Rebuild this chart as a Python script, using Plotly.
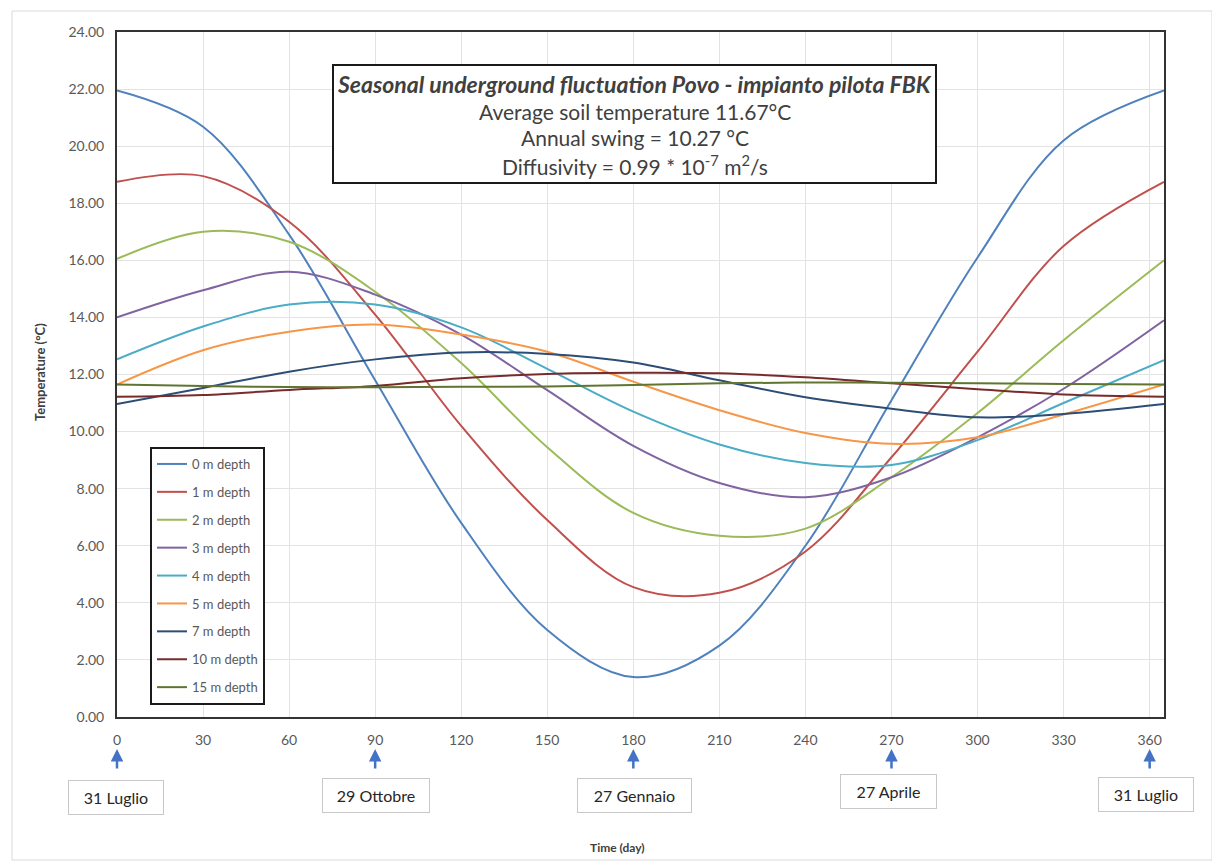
import plotly.graph_objects as go

days = [0, 30, 60, 90, 120, 150, 180, 210, 240, 270, 300, 330, 365]

t_0m = [21.95, 20.68, 16.9, 11.8, 6.8, 3.05, 1.4, 2.5, 6.0, 11.1, 16.1, 20.2, 21.95]
t_1m = [18.75, 18.95, 17.35, 14.1, 10.2, 6.9, 4.55, 4.35, 5.8, 9.1, 12.8, 16.5, 18.75]
t_2m = [16.05, 17.0, 16.65, 14.9, 12.4, 9.45, 7.15, 6.35, 6.6, 8.4, 10.65, 13.2, 16.0]
t_3m = [14.0, 14.95, 15.6, 14.8, 13.4, 11.45, 9.5, 8.2, 7.7, 8.4, 9.8, 11.5, 13.9]
t_4m = [12.53, 13.68, 14.45, 14.45, 13.65, 12.2, 10.7, 9.55, 8.9, 8.83, 9.7, 11.0, 12.5]
t_5m = [11.65, 12.85, 13.5, 13.75, 13.4, 12.8, 11.75, 10.75, 9.95, 9.57, 9.8, 10.6, 11.65]
t_7m = [10.97, 11.53, 12.1, 12.53, 12.77, 12.72, 12.42, 11.8, 11.2, 10.8, 10.5, 10.62, 10.97]
t_10m = [11.22, 11.28, 11.46, 11.6, 11.87, 12.02, 12.06, 12.04, 11.9, 11.69, 11.48, 11.3, 11.22]
t_15m = [11.65, 11.6, 11.56, 11.55, 11.57, 11.58, 11.63, 11.69, 11.72, 11.71, 11.69, 11.67, 11.65]

series_names = ["0 m depth", "1 m depth", "2 m depth", "3 m depth", "4 m depth",
                "5 m depth", "7 m depth", "10 m depth", "15 m depth"]
series_values = [t_0m, t_1m, t_2m, t_3m, t_4m, t_5m, t_7m, t_10m, t_15m]
series_colors = ["#4F81BD", "#C0504D", "#9BBB59", "#8064A2", "#4BACC6",
                 "#F79646", "#2C4D75", "#772C2A", "#5F7530"]

x_ticks = list(range(0, 361, 30))
y_ticks = list(range(0, 25, 2))

marker_days = [0, 90, 180, 270, 360]
date_labels = ["31 Luglio", "29 Ottobre", "27 Gennaio", "27 Aprile", "31 Luglio"]

title_lines = [
    "<b><i>Seasonal underground fluctuation Povo - impianto pilota FBK</i></b>",
    "Average soil temperature 11.67°C",
    "Annual swing = 10.27 °C",
    "Diffusivity = 0.99 * 10<sup>-7</sup> m<sup>2</sup>/s",
]
title_sizes = [23, 21, 21, 21]

FONT = "Lato, 'Open Sans', sans-serif"
# page has an 8px body margin; figure is sized so the plot area lands at page 117..1164 x 32..717
W, H = 1212, 855
L, R, T, B = 109, 56, 24, 146
PW, PH = W - L - R, H - T - B


def px(xp):
    return (xp - 8 - L) / PW


def py(yp):
    return (H - B - (yp - 8)) / PH


fig = go.Figure()
for i, (name, vals, col) in enumerate(zip(series_names, series_values, series_colors)):
    fig.add_trace(go.Scatter(
        x=days, y=vals, name=name, mode="lines",
        line=dict(color=col, width=2, shape="spline", smoothing=1.0),
        legendgroup=f"g{i}",
    ))

shapes = []
shapes.append(dict(type="rect", xref="paper", yref="paper",
                   x0=px(12), x1=px(1212), y0=py(860), y1=py(11),
                   line=dict(color="#d9d9d9", width=1), layer="below"))
shapes.append(dict(type="rect", xref="paper", yref="paper",
                   x0=px(333), x1=px(936), y0=py(183), y1=py(65),
                   line=dict(color="#1a1a1a", width=2), fillcolor="white", layer="above"))

annotations = []
line_y = [84, 111, 138, 165]
for txt, yy, fs in zip(title_lines, line_y, title_sizes):
    annotations.append(dict(text=txt, xref="paper", yref="paper", x=px(634.5), y=py(yy),
                            xanchor="center", yanchor="middle", showarrow=False,
                            font=dict(family=FONT, size=fs, color="#404040")))

for d in marker_days:
    annotations.append(dict(text="", x=d, xref="x", y=py(749), yref="paper",
                            showarrow=True, ax=0, ay=21, arrowhead=2, arrowsize=1,
                            arrowwidth=2.5, arrowcolor="#4472C4", standoff=0))

box_cx = [115.5, 376, 634, 888, 1146]
box_cy = [797, 795, 795, 791, 794]
box_w = [84, 96, 103, 85, 84]
for lab, cx, cy, bw in zip(date_labels, box_cx, box_cy, box_w):
    annotations.append(dict(text=lab, xref="paper", yref="paper", x=px(cx), y=py(cy),
                            xanchor="center", yanchor="middle", showarrow=False,
                            width=bw, height=23, borderpad=5, bordercolor="#c8c8c8",
                            borderwidth=1, bgcolor="white",
                            font=dict(family=FONT, size=16, color="#262626")))

annotations.append(dict(text="<b>Time (day)</b>", xref="paper", yref="paper",
                        x=px(617), y=py(847), xanchor="center", yanchor="middle",
                        showarrow=False, font=dict(family=FONT, size=12, color="#404040")))
annotations.append(dict(text="<b>Temperature (°C)</b>", xref="paper", yref="paper",
                        x=px(40), y=py(372), xanchor="center", yanchor="middle",
                        textangle=-90, showarrow=False,
                        font=dict(family=FONT, size=13, color="#404040")))

fig.update_layout(
    width=W, height=H,
    margin=dict(l=L, r=R, t=T, b=B),
    paper_bgcolor="white", plot_bgcolor="white",
    font=dict(family=FONT, color="#595959"),
    showlegend=True,
    legend=dict(x=px(150), y=py(447), xanchor="left", yanchor="top",
                bordercolor="#1a1a1a", borderwidth=2, bgcolor="white",
                font=dict(family=FONT, size=13, color="#595959"),
                tracegroupgap=8, itemwidth=30),
    shapes=shapes,
    annotations=annotations,
    xaxis=dict(range=[0, 365], tickmode="array", tickvals=x_ticks,
               showgrid=True, gridcolor="#e3e3e3", gridwidth=1,
               showline=True, linecolor="#333333", linewidth=2, mirror=True,
               zeroline=False, ticks="", ticklabelstandoff=9,
               tickfont=dict(family=FONT, size=14, color="#595959")),
    yaxis=dict(range=[0, 24], tickmode="array", tickvals=y_ticks, tickformat=".2f",
               showgrid=True, gridcolor="#e3e3e3", gridwidth=1,
               showline=True, linecolor="#333333", linewidth=2, mirror=True,
               zeroline=False, ticks="", ticklabelstandoff=8,
               tickfont=dict(family=FONT, size=14, color="#595959")),
)

fig.write_html("out.html")
